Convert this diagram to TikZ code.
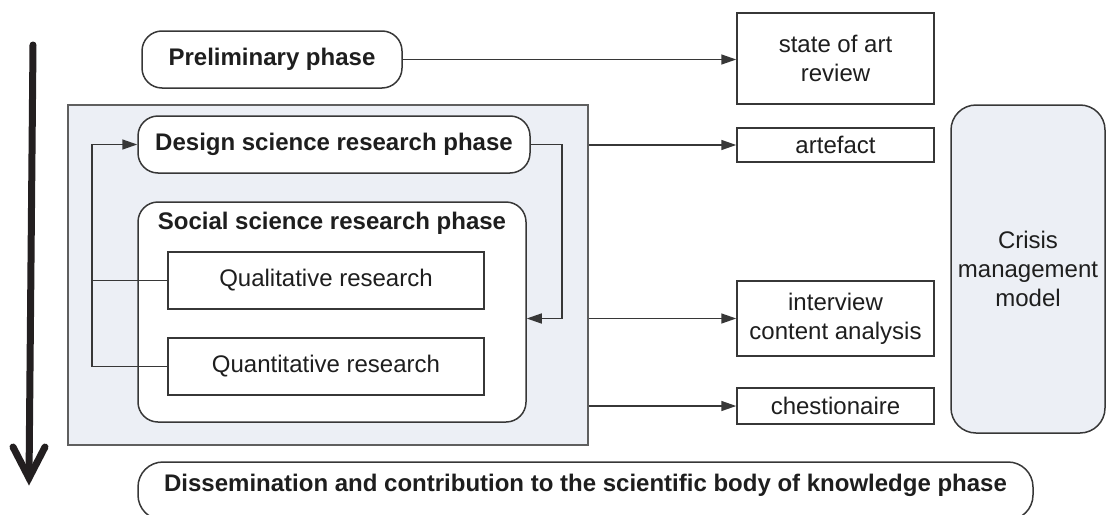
\documentclass[tikz,border=0pt]{standalone}
\usepackage{fontspec}
\setmainfont{Liberation Sans}
\usetikzlibrary{arrows.meta,calc}

\definecolor{ink}{RGB}{30,30,30}
\definecolor{edge}{RGB}{55,55,55}
\definecolor{panel}{RGB}{236,239,245}
\definecolor{flowink}{RGB}{35,31,32}

\tikzset{
  every node/.style={font=\fontsize{24}{29}\selectfont, text=ink, inner sep=0pt},
  phase/.style={draw=edge, line width=1.5pt, fill=white, rounded corners=20pt,
                font=\fontsize{24}{29}\selectfont\bfseries},
  plainbox/.style={draw=edge, line width=1.5pt, fill=white, align=center},
  panelbox/.style={draw=edge!80, line width=1.5pt, fill=panel},
  link/.style={draw=edge, line width=1.5pt},
  arrowlink/.style={link, -{Triangle[length=15pt,width=10pt]}},
}

\begin{document}
\begin{tikzpicture}[x=1pt, y=-1pt]
  \useasboundingbox (0,0) rectangle (1107,514);
  \clip (0,0) rectangle (1107,514);

  % time axis on the left
  \coordinate (flowtop) at (33,45);
  \coordinate (flowtip) at (29,478);
  \draw[flowink, line width=7pt, line cap=round] (flowtop) -- ($(flowtip)+(0.1,-9)$);
  \draw[flowink, line width=7pt, line cap=round, line join=miter]
    ($(flowtip)+(-16,-31)$) -- (flowtip) -- ($(flowtip)+(16,-31)$);

  % research panel and its phases
  \node[panelbox, minimum width=520pt, minimum height=340pt] (panel) at (328,275) {};
  \node[phase, minimum width=260pt, minimum height=57pt] (prelim) at (272,59.5) {Preliminary phase};
  \node[phase, minimum width=392pt, minimum height=57pt] (design) at (334,144.5) {Design science research phase};
  \node[phase, minimum width=388pt, minimum height=220pt] (social) at (332,312) {};
  \node[font=\fontsize{24}{29}\selectfont\bfseries] (socialtitle) at (332,223) {Social science research phase};
  \node[plainbox, minimum width=316pt, minimum height=57pt] (qual) at (326,280.5) {Qualitative research};
  \node[plainbox, minimum width=316pt, minimum height=57pt] (quan) at (326,366.5) {Quantitative research};

  % outputs
  \node[plainbox, minimum width=197pt, minimum height=91pt] (state) at (835.5,58.5) {state of art\\review};
  \node[plainbox, minimum width=197pt, minimum height=34pt] (art) at (835.5,145) {artefact};
  \node[plainbox, minimum width=197pt, minimum height=75pt] (interview) at (835.5,318.5) {interview\\content analysis};
  \node[plainbox, minimum width=197pt, minimum height=36pt] (chest) at (835.5,406) {chestionaire};
  \node[panelbox, draw=edge, rounded corners=25pt, align=center,
        minimum width=154pt, minimum height=328pt] (crisis) at (1028,269) {Crisis\\management\\model};

  % final phase
  \node[phase, rounded corners=25pt, minimum width=895pt, minimum height=58pt,
        text height=8pt, text depth=8pt] (dissem) at (585.5,491)
        {Dissemination and contribution to the scientific body of knowledge phase};

  % connectors
  \coordinate (loopx) at (92,0);
  \coordinate (fbx) at (562,0);
  \draw[arrowlink] (prelim.east) -- (prelim.east -| state.west);
  \draw[link] (qual.west) -- (qual.west -| loopx);
  \draw[arrowlink] (quan.west) -- (quan.west -| loopx) |- (design.west);
  \draw[arrowlink] (design.east) -- (design.east -| fbx) |- (social.east |- interview.west);
  \draw[arrowlink] (art.west -| panel.east) -- (art.west);
  \draw[arrowlink] (interview.west -| panel.east) -- (interview.west);
  \draw[arrowlink] (chest.west -| panel.east) -- (chest.west);
\end{tikzpicture}
\end{document}
